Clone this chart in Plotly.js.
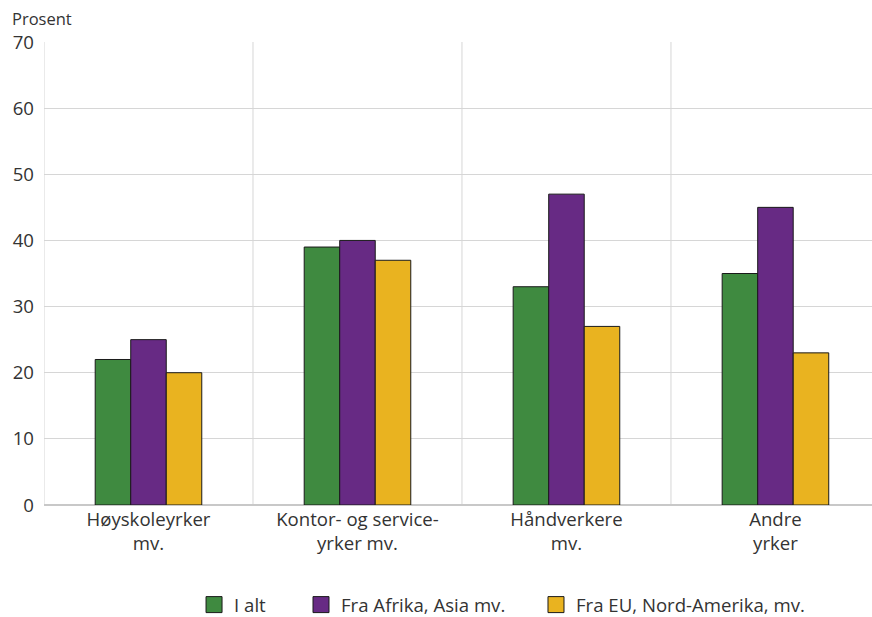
<!DOCTYPE html>
<html>
<head>
<meta charset="utf-8">
<script src="https://cdn.plot.ly/plotly-3.0.1.min.js"></script>
<style>html,body{margin:0;padding:0;background:#fff;overflow:hidden}#chart{width:872px;height:617px}</style>
</head>
<body>
<div id="chart"></div>
<script>
const categories = ["Høyskoleyrker<br>mv.", "Kontor- og service-<br>yrker mv.", "Håndverkere<br>mv.", "Andre<br>yrker"];
const seriesNames = ["I alt", "Fra Afrika, Asia mv.", "Fra EU, Nord-Amerika, mv."];
const iAlt = [22, 39, 33, 35];
const fraAfrikaAsia = [25, 40, 47, 45];
const fraEUNordAmerika = [20, 37, 27, 23];
const yTicks = [0, 10, 20, 30, 40, 50, 60, 70];
const colors = ["#3f8a40", "#672a84", "#e9b320"];

const values = [iAlt, fraAfrikaAsia, fraEUNordAmerika];
const legendIds = ["legend", "legend2", "legend3"];
const traces = values.map((v, i) => ({
  type: "bar",
  name: seriesNames[i],
  x: categories,
  y: v,
  showlegend: false,
  legendgroup: "g" + i,
  marker: {color: colors[i], line: {color: "#1a1a1a", width: 1}},
  hoverinfo: "skip"
}));
// legend-only entries with larger square swatches
seriesNames.forEach((n, i) => traces.push({
  type: "scatter", mode: "markers", name: n, x: [null], y: [null],
  legendgroup: "g" + i, showlegend: true, legend: legendIds[i],
  marker: {symbol: "square", size: 16, color: colors[i], line: {color: "#1a1a1a", width: 1}},
  hoverinfo: "skip"
}));

const shapes = [-0.5, 0.5, 1.5, 2.5].map(p => ({
  type: "line", xref: "x", yref: "paper", x0: p, x1: p, y0: 0, y1: 1,
  line: {color: "#d6d6d6", width: 1}, layer: "below"
}));

const fs = 18.6;
const legendX = [0.1812, 0.3104, 0.5942];
const legendBase = {orientation: "h", xanchor: "left", y: -0.216, yanchor: "middle",
                    font: {size: fs, color: "#333"}, itemsizing: "trace", bgcolor: "rgba(0,0,0,0)"};

const layout = {
  width: 872, height: 617,
  margin: {l: 44, r: 0, t: 42, b: 112, autoexpand: false},
  paper_bgcolor: "#fff", plot_bgcolor: "#fff",
  font: {family: "Open Sans, sans-serif", size: fs, color: "#333"},
  barmode: "group",
  bargap: 0.49,
  bargroupgap: 0,
  showlegend: true,
  legend: Object.assign({}, legendBase, {x: legendX[0]}),
  legend2: Object.assign({}, legendBase, {x: legendX[1]}),
  legend3: Object.assign({}, legendBase, {x: legendX[2]}),
  xaxis: {type: "category", showgrid: false, ticks: "", showline: false, zeroline: false,
          tickfont: {size: fs, color: "#333"}, range: [-0.5, 3.462], ticklabelstandoff: 1},
  yaxis: {range: [0, 70], tickvals: yTicks, showgrid: true, gridcolor: "#d6d6d6", gridwidth: 1,
          zeroline: true, zerolinecolor: "#c8c8c8", zerolinewidth: 2, showline: false, ticks: "",
          tickfont: {size: fs, color: "#333"}, ticklabelstandoff: 9},
  shapes: shapes,
  annotations: [{text: "Prosent", xref: "paper", yref: "paper", x: -0.041, y: 1, xanchor: "left",
                 yanchor: "middle", yshift: 24, showarrow: false, font: {size: 16.5, color: "#333"}}]
};

Plotly.newPlot("chart", traces, layout, {displayModeBar: false, staticPlot: true});
</script>
</body>
</html>
